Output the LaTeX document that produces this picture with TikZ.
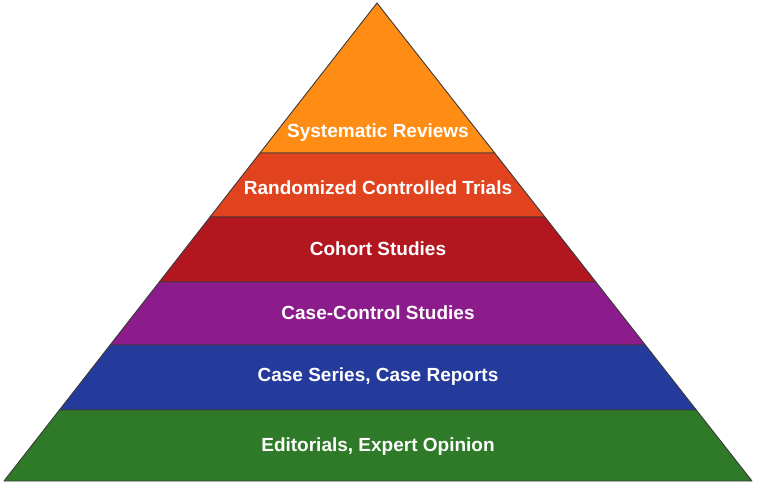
\documentclass[tikz,border=0pt]{standalone}
\usepackage{fontspec}
\setmainfont{Liberation Sans}
\usetikzlibrary{calc}
\definecolor{srorange}{HTML}{FF8C14}
\definecolor{rctred}{HTML}{E0431E}
\definecolor{cohortred}{HTML}{B2161F}
\definecolor{ccpurple}{HTML}{8C1C8C}
\definecolor{csblue}{HTML}{243B9C}
\definecolor{eogreen}{HTML}{2E7A28}
\definecolor{edgegray}{HTML}{3A3A3A}

\begin{document}
\begin{tikzpicture}[x=1pt, y=1pt]
\tikzstyle{band}=[draw=edgegray, line width=0.9pt, line join=round]
\tikzstyle{tierlabel}=[text=white, font=\bfseries\fontsize{19}{21}\selectfont]
\useasboundingbox (0,0) rectangle (757,485);
\coordinate (apex) at (377,482);
\coordinate (bl) at (4,4);
\coordinate (br) at (752,4);
% bands from top to bottom, as fractions of the side
\foreach \ta/\tb/\col in {0/0.3138/srorange, 0.3138/0.4477/rctred, 0.4477/0.5837/cohortred, 0.5837/0.7155/ccpurple, 0.7155/0.8515/csblue, 0.8515/1/eogreen}
  \draw[band, fill=\col] ($(apex)!\ta!(bl)$) -- ($(apex)!\tb!(bl)$) -- ($(apex)!\tb!(br)$) -- ($(apex)!\ta!(br)$) -- cycle;
\node[tierlabel] (sr) at (378,352) {Systematic Reviews};
\node[tierlabel] (rct) at (378,297) {Randomized Controlled Trials};
\node[tierlabel] (cohort) at (378,236) {Cohort Studies};
\node[tierlabel] (cc) at (378,172) {Case-Control Studies};
\node[tierlabel] (cs) at (378,108) {Case Series, Case Reports};
\node[tierlabel] (eo) at (378,38) {Editorials, Expert Opinion};
\end{tikzpicture}
\end{document}
